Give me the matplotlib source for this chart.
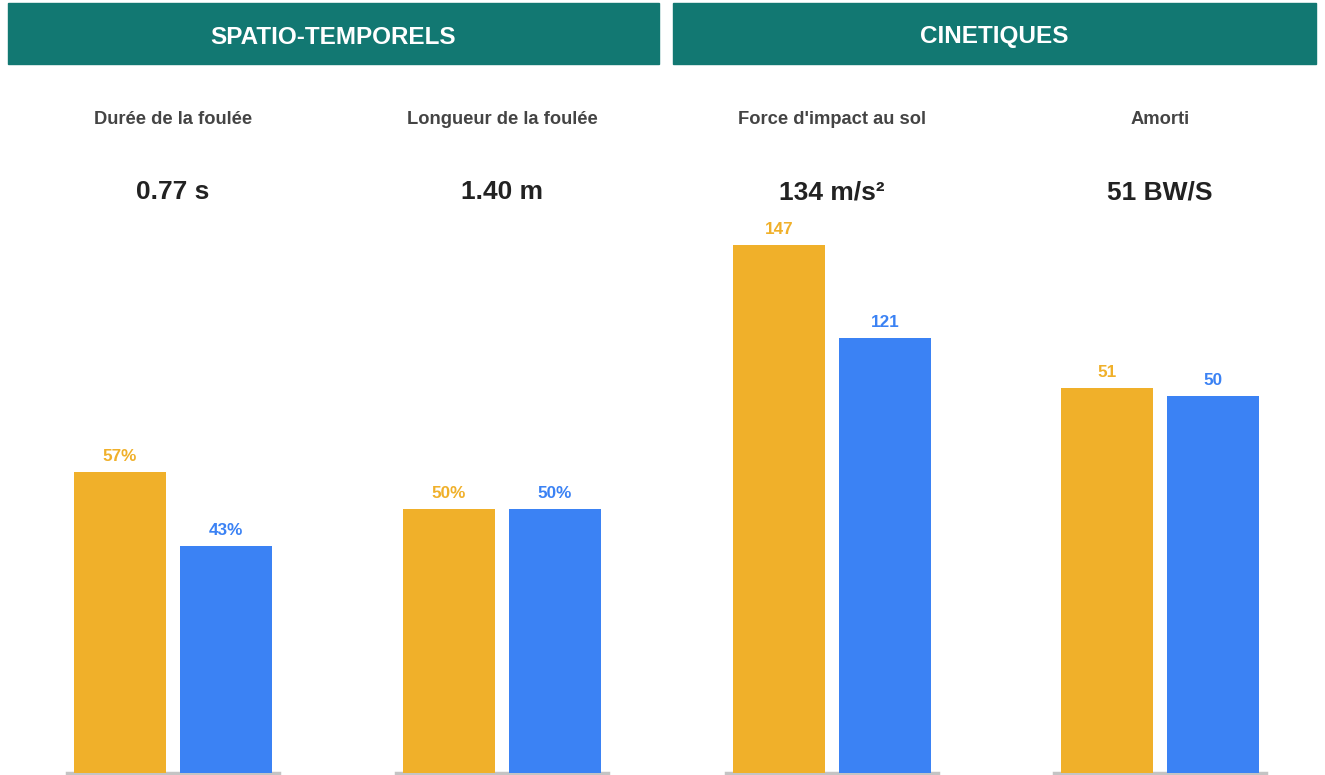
import matplotlib
matplotlib.use("Agg")
import matplotlib.pyplot as plt
from matplotlib.patches import Rectangle

plt.rcParams['font.family'] = ['Liberation Sans', 'DejaVu Sans']

# sections
sections = ["SPATIO-TEMPORELS", "CINETIQUES"]

# panels
titles = ["Durée de la foulée", "Longueur de la foulée", "Force d'impact au sol", "Amorti"]
values_text = ["0.77 s", "1.40 m", "134 m/s²", "51 BW/S"]
orange_vals = [57, 50, 147, 51]
blue_vals = [43, 50, 121, 50]
label_suffix = ["%", "%", "", ""]
y_max = [100, 100, 147, 70]

ORANGE = "#F0B02A"
BLUE = "#3B82F4"
TEAL = "#127872"

W, H = 1325, 775
fig = plt.figure(figsize=(W / 100, H / 100), dpi=100)


def fx(px):
    return px / W


def fy(py):
    return 1 - py / H


# header boxes
header_boxes = [(8, 659), (673, 1316)]
for (x0, x1), name in zip(header_boxes, sections):
    fig.patches.append(Rectangle((fx(x0), fy(64)), fx(x1 - x0), (64 - 3) / H,
                                 transform=fig.transFigure, color=TEAL, zorder=0))
    fig.text(fx((x0 + x1) / 2), fy(37), name, color="white", fontsize=17.5,
             fontweight="bold", ha="center", va="center")

# panels
axes_left = [67, 396, 726, 1054]
ax_w = 212
for i in range(4):
    ax = fig.add_axes([fx(axes_left[i]), fy(773), fx(ax_w), (773 - 245) / H])
    ax.bar([0], [orange_vals[i]], width=0.86, color=ORANGE)
    ax.bar([1], [blue_vals[i]], width=0.86, color=BLUE)
    ax.set_xlim(-0.5, 1.5)
    ax.set_ylim(0, y_max[i])
    ax.axis("off")
    ax.axhline(0, color="#c4c4c4", lw=2.5, clip_on=False, zorder=0)
    for x, v, c in [(0, orange_vals[i], ORANGE), (1, blue_vals[i], BLUE)]:
        ax.annotate(f"{v}{label_suffix[i]}", (x, v), xytext=(0, 6),
                    textcoords="offset points", ha="center", va="bottom",
                    color=c, fontsize=12.3, fontweight="bold", annotation_clip=False)

    cx = axes_left[i] + ax_w / 2
    fig.text(fx(cx), fy(119), titles[i], color="#444444", fontsize=13.2,
             fontweight="bold", ha="center", va="center")
    fig.text(fx(cx), fy(192), values_text[i], color="#222222", fontsize=19,
             fontweight="bold", ha="center", va="center")

fig.savefig("out.png", dpi=100)
